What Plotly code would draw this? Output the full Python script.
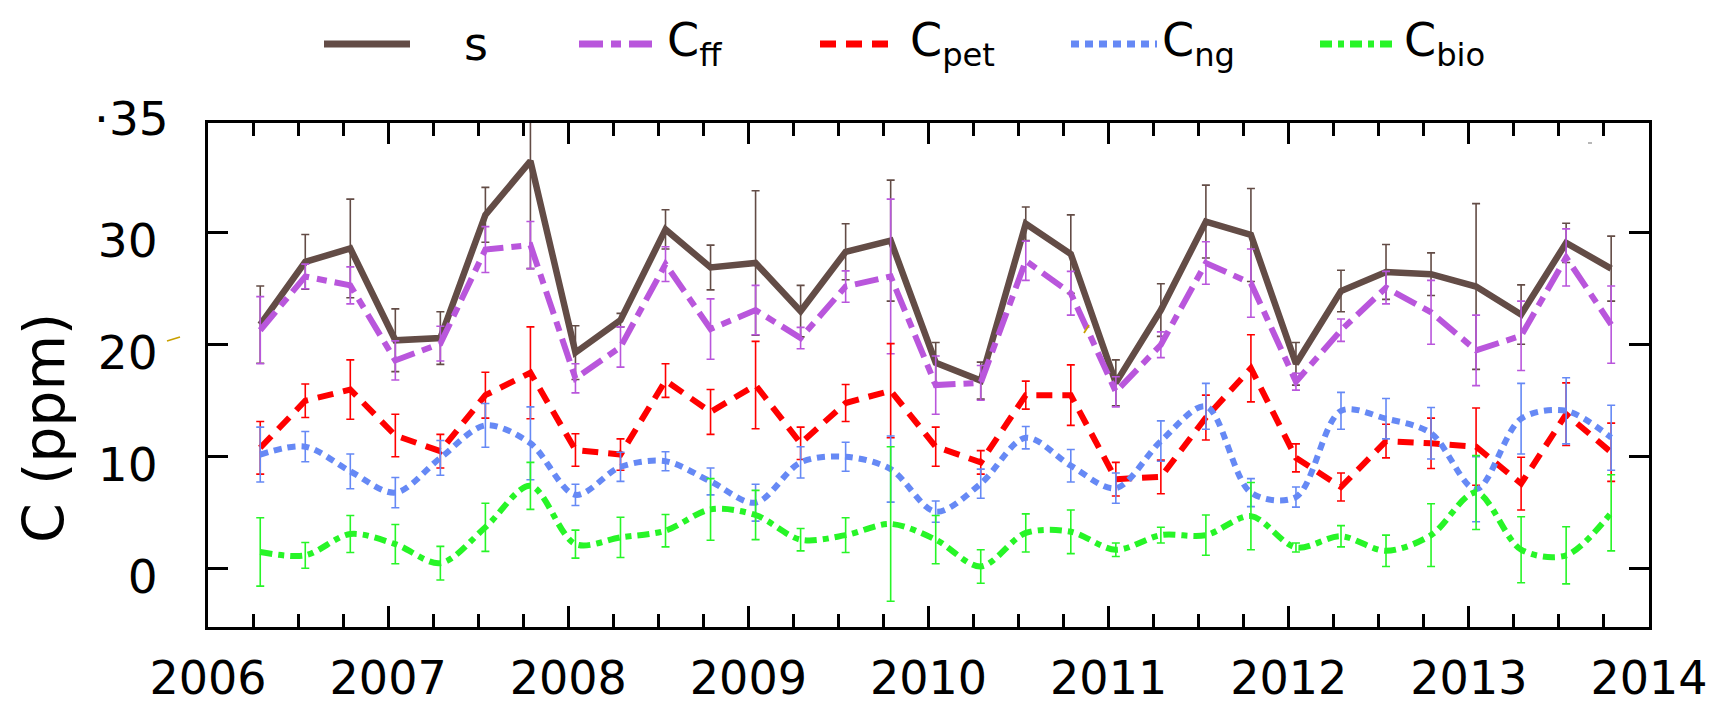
import plotly.graph_objects as go

# Seasonal sampling times (mid-season, decimal years)
t = [2006.29, 2006.54, 2006.79, 2007.04, 2007.29, 2007.54, 2007.79, 2008.04,
     2008.29, 2008.54, 2008.79, 2009.04, 2009.29, 2009.54, 2009.79, 2010.04,
     2010.29, 2010.54, 2010.79, 2011.04, 2011.29, 2011.54, 2011.79, 2012.04,
     2012.29, 2012.54, 2012.79, 2013.04, 2013.29, 2013.54, 2013.79]

# Total signal s and its uncertainty (ppm)
s_val = [21.8, 27.4, 28.6, 20.4, 20.6, 31.6, 36.4, 19.3, 22.2, 30.3, 26.9, 27.3, 23.0, 28.3, 29.3, 18.4,
         16.8, 30.8, 28.1, 16.6, 23.1, 31.0, 29.8, 18.3, 24.8, 26.5, 26.3, 25.2, 22.7, 29.1, 26.8]
s_err = [3.45, 2.45, 4.4, 2.8, 2.35, 2.45, 9.6, 2.4, 0.6, 1.75, 2.0, 6.45, 2.3, 2.5, 5.4, 1.8,
         1.65, 1.5, 3.5, 2.05, 2.35, 3.25, 4.15, 1.9, 1.85, 2.45, 1.9, 7.4, 2.65, 1.75, 2.9]

# Fossil-fuel component
cff_val = [21.3, 26.1, 25.3, 18.6, 20.1, 28.5, 28.9, 17.0, 19.8, 27.2, 21.4, 23.1, 20.6, 25.2, 26.1, 16.4,
           16.6, 27.5, 24.6, 15.8, 20.0, 27.3, 25.5, 16.7, 21.3, 25.1, 22.9, 19.5, 20.8, 27.8, 21.8]
cff_err = [3.0, 1.1, 1.65, 1.75, 1.55, 2.05, 2.1, 1.3, 1.8, 1.55, 2.7, 2.2, 0.95, 1.4, 6.9, 2.6,
           1.55, 1.75, 1.95, 1.35, 1.15, 1.9, 3.05, 0.75, 1.0, 1.45, 2.85, 3.15, 3.1, 2.55, 3.45]

# Petroleum component
cpet_val = [10.8, 15.0, 16.0, 11.9, 10.5, 15.5, 17.5, 10.6, 10.2, 16.8, 14.0, 16.4, 11.2, 14.8, 15.9, 10.9,
            9.5, 15.5, 15.5, 8.0, 8.2, 13.5, 17.9, 9.9, 7.3, 11.4, 11.2, 10.9, 7.6, 13.8, 10.4]
cpet_err = [2.35, 1.5, 2.65, 1.9, 1.5, 2.05, 4.1, 1.45, 1.4, 1.5, 2.0, 3.9, 1.45, 1.65, 4.2, 1.75,
            1.05, 1.25, 2.7, 1.5, 1.5, 2.0, 3.0, 1.25, 1.25, 1.5, 2.25, 3.45, 2.35, 2.8, 2.6]

# Natural-gas component
cng_val = [10.2, 10.9, 8.7, 6.8, 9.9, 12.8, 11.2, 6.6, 9.1, 9.6, 7.8, 5.9, 9.5, 10.0, 8.9, 5.1,
           7.6, 11.7, 9.2, 7.2, 11.4, 14.5, 6.8, 6.4, 14.1, 13.4, 12.1, 7.1, 13.4, 14.1, 11.7]
cng_err = [2.45, 1.35, 1.55, 1.35, 1.55, 1.95, 3.25, 0.95, 1.3, 0.85, 1.2, 1.65, 1.4, 1.3, 2.95, 0.95,
           1.3, 1.0, 1.45, 1.35, 1.8, 2.05, 1.25, 0.9, 1.65, 1.8, 2.3, 2.9, 3.15, 2.95, 2.9]

# Biogenic component
cbio_val = [1.5, 1.2, 3.1, 2.2, 0.5, 3.7, 7.4, 2.2, 2.8, 3.4, 5.3, 4.8, 2.6, 3.0, 4.0, 2.6,
            0.2, 3.2, 3.3, 1.7, 3.0, 3.0, 4.7, 1.9, 2.9, 1.6, 3.0, 6.8, 1.7, 1.2, 5.0]
cbio_err = [3.05, 1.15, 1.65, 1.75, 1.5, 2.15, 2.1, 1.25, 1.8, 1.45, 2.75, 2.2, 1.0, 1.55, 6.9, 2.15,
            1.5, 1.7, 1.95, 0.6, 0.7, 1.8, 3.0, 0.4, 0.95, 1.4, 2.8, 3.3, 2.95, 2.55, 3.4]

year_ticks = [2006, 2007, 2008, 2009, 2010, 2011, 2012, 2013, 2014]
y_ticks = [0, 10, 20, 30]

FONT = "DejaVu Sans"
W, H = 1722, 706
ML, MR, MT, MB = 208, 73, 123, 79
PW, PH = W - ML - MR, H - MT - MB


def px(x):
    return (x - ML) / PW


def py(y):
    return (H - MB - y) / PH


series = [
    dict(name="s", label="s", y=s_val, e=s_err, color="#634c46", dash="solid", shape="linear", width=6.5),
    dict(name="Cff", label="C<sub>ff</sub>", y=cff_val, e=cff_err, color="#b956dc",
         dash="24px,8px,10px,8px", shape="linear", width=6),
    dict(name="Cpet", label="C<sub>pet</sub>", y=cpet_val, e=cpet_err, color="#ff0000",
         dash="16px,10px", shape="linear", width=6),
    dict(name="Cng", label="C<sub>ng</sub>", y=cng_val, e=cng_err, color="#6689f5",
         dash="8px,6px", shape="spline", width=6),
    dict(name="Cbio", label="C<sub>bio</sub>", y=cbio_val, e=cbio_err, color="#27f527",
         dash="12px,6px,6px,6px", shape="spline", width=6),
]

fig = go.Figure()
for sr in series:
    fig.add_trace(go.Scatter(
        x=t, y=sr["y"], mode="lines", name=sr["name"], showlegend=False,
        line=dict(color=sr["color"], width=sr["width"], dash=sr["dash"], shape=sr["shape"], smoothing=0.9),
        error_y=dict(type="data", array=sr["e"], visible=True, color=sr["color"], thickness=1.6, width=4),
    ))

# Hand-drawn legend across the top
legend_lines = [(324, 410), (579, 652), (820, 895), (1071, 1157), (1320, 1398)]
legend_text_x = [462, 665, 908, 1160, 1402]
shapes = []
annotations = []
for sr, (x0, x1), tx in zip(series, legend_lines, legend_text_x):
    shapes.append(dict(type="line", xref="paper", yref="paper", x0=px(x0), x1=px(x1), y0=py(44), y1=py(44),
                       line=dict(color=sr["color"], width=7, dash=sr["dash"])))
    annotations.append(dict(text=sr["label"], xref="paper", yref="paper", x=px(tx), y=py(44),
                            xanchor="left", yanchor="middle", showarrow=False,
                            font=dict(family=FONT, size=46, color="black")))

# y-axis title
annotations.append(dict(text="C (ppm)", xref="paper", yref="paper", x=px(44), y=py(428),
                        xanchor="center", yanchor="middle", textangle=-90, showarrow=False,
                        font=dict(family=FONT, size=57, color="black")))
# stray label at the top of the y axis
annotations.append(dict(text="·35", xref="paper", yref="paper", x=px(171), y=py(118),
                        xanchor="right", yanchor="middle", showarrow=False,
                        font=dict(family=FONT, size=47, color="black")))

# small stray marks
shapes.append(dict(type="line", xref="paper", yref="paper", x0=px(167), y0=py(341), x1=px(180), y1=py(337),
                   line=dict(color="#c9a000", width=1.8)))
shapes.append(dict(type="line", xref="paper", yref="paper", x0=px(1084), y0=py(333), x1=px(1089), y1=py(325),
                   line=dict(color="#c9a000", width=1.8)))
shapes.append(dict(type="line", xref="paper", yref="paper", x0=px(1588), y0=py(143), x1=px(1592), y1=py(143),
                   line=dict(color="#888888", width=1.2)))

fig.update_layout(
    width=W, height=H, autosize=False,
    margin=dict(l=ML, r=MR, t=MT, b=MB, autoexpand=False),
    paper_bgcolor="white", plot_bgcolor="white",
    shapes=shapes, annotations=annotations, showlegend=False,
    font=dict(family=FONT, color="black"),
)

fig.update_xaxes(
    range=[2006, 2014], tickvals=year_ticks, ticktext=[str(v) for v in year_ticks],
    ticks="inside", ticklen=21, tickwidth=3, tickcolor="black",
    minor=dict(dtick=0.25, tick0=2006, ticks="inside", ticklen=13, tickwidth=3, tickcolor="black", showgrid=False),
    showline=True, linewidth=3, linecolor="black", mirror="allticks",
    showgrid=False, zeroline=False, automargin=False,
    tickfont=dict(family=FONT, size=46, color="black"), ticklabelstandoff=9,
)
fig.update_yaxes(
    range=[-5.2, 39.8], tickvals=y_ticks, ticktext=[str(v) for v in y_ticks],
    ticks="inside", ticklen=20, tickwidth=3, tickcolor="black",
    showline=True, linewidth=3, linecolor="black", mirror="allticks",
    showgrid=False, zeroline=False, automargin=False,
    tickfont=dict(family=FONT, size=47, color="black"), ticklabelstandoff=38, ticklabelshift=8,
)

fig.write_html("out.html")
